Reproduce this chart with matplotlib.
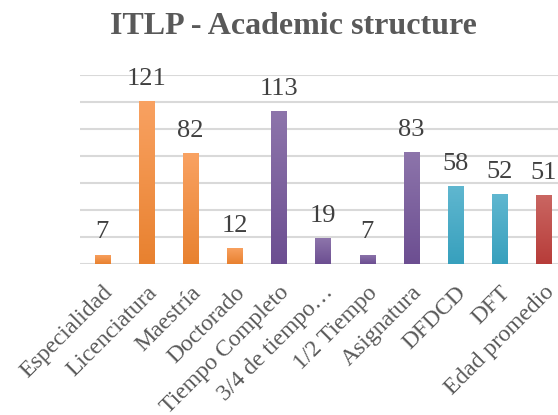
import numpy as np
import matplotlib.pyplot as plt
from matplotlib.colors import LinearSegmentedColormap

# data
categories = ['Especialidad', 'Licenciatura', 'Maestría', 'Doctorado',
              'Tiempo Completo', '3/4 de tiempo…', '1/2 Tiempo', 'Asignatura',
              'DFDCD', 'DFT', 'Edad promedio']
values = [7, 121, 82, 12, 113, 19, 7, 83, 58, 52, 51]
groups = ['grado', 'grado', 'grado', 'grado',
          'plaza', 'plaza', 'plaza', 'plaza',
          'desempeno', 'desempeno', 'edad']

# (top, bottom) gradient colours per group
group_colors = {'grado': ('#F9A262', '#E8812F'),
                'plaza': ('#8D75AB', '#6C4E91'),
                'desempeno': ('#60B7D0', '#37A0BD'),
                'edad': ('#CA6662', '#B73C39')}

plt.rcParams['font.family'] = ['Liberation Serif', 'DejaVu Serif']

fig = plt.figure(figsize=(5.58, 4.15), dpi=100)
ax = fig.add_axes([80 / 558, 1 - 264 / 415, 486 / 558, (264 - 75) / 415])

x = np.arange(len(categories))
bw = 0.34
bars = ax.bar(x, values, width=bw, color='none', zorder=3)

# gradient fill, lighter at the top
grad = np.linspace(0, 1, 256).reshape(-1, 1)
for b, g in zip(bars, groups):
    top, bottom = group_colors[g]
    cmap = LinearSegmentedColormap.from_list(g, [bottom, top])
    x0, w, h = b.get_x(), b.get_width(), b.get_height()
    im = ax.imshow(grad, cmap=cmap, aspect='auto', origin='lower',
                   extent=(x0, x0 + w, 0, h), zorder=3)
    im.set_clip_path(b)

for xi, v in zip(x, values):
    ax.annotate(str(v), (xi, v), xytext=(0, 8), textcoords='offset points',
                ha='center', va='bottom', fontsize=19, color='#404040')

ax.set_xlim(-0.5, len(categories) - 0.5)
ax.set_ylim(0, 140)
ax.set_yticks(np.arange(0, 141, 20))
ax.yaxis.grid(True, color='#D9D9D9', linewidth=1.5, zorder=0)
ax.tick_params(axis='y', left=False, labelleft=False)
ax.tick_params(axis='x', length=0, pad=13)
for s in ax.spines.values():
    s.set_visible(False)

ax.set_xticks(x)
ax.set_xticklabels(categories, rotation=45, ha='right', rotation_mode='anchor',
                   fontsize=17, color='#595959')

fig.text(293 / 558, 1 - 34 / 415, 'ITLP - Academic structure', ha='center',
         va='baseline', fontsize=23, fontweight='bold', color='#595959')

fig.savefig('out.png', dpi=100)
